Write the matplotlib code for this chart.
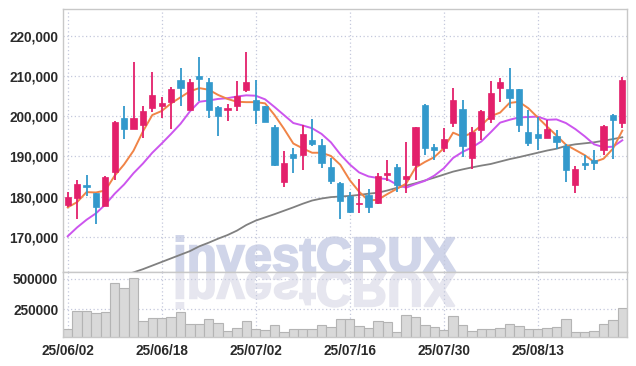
import numpy as np
import matplotlib
matplotlib.use('Agg')
import matplotlib.pyplot as plt
from matplotlib import font_manager as fm
from matplotlib.textpath import TextPath
from matplotlib.patches import PathPatch
from matplotlib.font_manager import FontProperties
from matplotlib.transforms import Affine2D, IdentityTransform
from matplotlib.ticker import FuncFormatter, FixedLocator

# 좁은 글꼴이 있으면 사용, 없으면 Liberation Sans
font_names = {f.name for f in fm.fontManager.ttflist}
if 'Liberation Sans Narrow' in font_names:
    LABEL_FONT = dict(family='Liberation Sans Narrow', size=11.5, weight='bold')
else:
    LABEL_FONT = dict(family='Liberation Sans', size=9.8, weight='bold')
plt.rcParams['font.family'] = [LABEL_FONT['family'], 'DejaVu Sans']

# 틱 라벨 (10거래일 간격)
tick_labels = ['25/06/02', '25/06/18', '25/07/02', '25/07/16', '25/07/30', '25/08/13']

# OHLC (60 거래일)
opens = [177900, 179600, 182750, 180900, 177600, 186100, 199650, 196850, 197850, 202150,
         202600, 203600, 209000, 201500, 210000, 208500, 202350, 201500, 202500, 206500,
         204150, 202650, 197250, 183600, 190500, 190350, 194100, 192750, 187350, 183350,
         180100, 178100, 180350, 178350, 185250, 187350, 184350, 187750, 202750, 192250,
         192150, 198350, 201750, 189600, 196650, 199350, 207100, 206750, 206750, 196000,
         195500, 194600, 195000, 192500, 182850, 188250, 189000, 191650, 200250, 198350]
closes = [179800, 183000, 182350, 177350, 184850, 198500, 196850, 199650, 201250, 205250,
          203250, 206750, 207100, 208600, 209250, 201500, 200000, 202150, 205150, 208500,
          201500, 198500, 187900, 188250, 189600, 195500, 193000, 188350, 183850, 178850,
          176250, 178500, 177500, 185000, 185750, 182900, 185000, 197250, 192100, 191600,
          194250, 204150, 192600, 196150, 201250, 205850, 208400, 204600, 197750, 193250,
          194600, 196750, 193500, 186600, 186750, 187850, 188350, 197500, 199100, 209000]
highs = [181100, 184150, 185400, 180900, 185150, 198850, 202650, 213400, 202650, 210900,
         204850, 207350, 211900, 209150, 214850, 209400, 202650, 203150, 208850, 215900,
         209000, 202650, 197750, 191350, 192000, 197850, 199400, 194400, 189600, 183600,
         181100, 184400, 181850, 185850, 189150, 188150, 193600, 197250, 203150, 193150,
         197150, 207100, 204150, 197350, 201650, 208850, 209500, 211900, 206750, 201600,
         199900, 199150, 196500, 193000, 187600, 190250, 191500, 197850, 200650, 209850]
lows = [177300, 174400, 180100, 173150, 177600, 184000, 194350, 196850, 194650, 201100,
        199650, 196900, 202650, 201500, 203850, 199650, 195150, 198850, 201250, 206000,
        198150, 198500, 187500, 182350, 185850, 186650, 192650, 187150, 183150, 174400,
        175850, 175900, 175850, 178100, 183850, 181100, 180900, 184000, 190400, 189150,
        191100, 197350, 189850, 186900, 194000, 198350, 203650, 202150, 196150, 192650,
        191650, 194600, 191900, 183600, 180900, 186500, 186500, 190250, 189400, 197150]

volumes = [88900, 230600, 230600, 213900, 222200, 463900, 422200, 511100, 155600, 180600,
           180600, 188900, 222200, 127800, 127800, 169400, 138900, 69400, 97200, 155600,
           88900, 80600, 122200, 63900, 88900, 88900, 88900, 122200, 105600, 172200,
           172200, 111100, 97200, 155600, 147200, 63900, 202800, 186100, 122200, 102800,
           80600, 194400, 122200, 72200, 88900, 88900, 97200, 127800, 113900, 83300,
           88900, 97200, 105600, 169400, 63900, 63900, 72200, 127800, 163900, 261100]

# 이동평균선
ma5 = [177300, 178600, 181100, 181000, 181500, 185200, 188000, 191400, 196200, 200300,
       201300, 203200, 204700, 206200, 207000, 206600, 205300, 204300, 203600, 203500,
       203500, 203200, 200300, 196900, 193200, 192000, 190900, 190900, 190100, 187900,
       184100, 181200, 179000, 179200, 180600, 181900, 183200, 187200, 188600, 189800,
       192000, 195900, 194900, 195800, 197700, 200000, 200900, 203300, 203600, 202000,
       199700, 197400, 195200, 192900, 191600, 190300, 188600, 189400, 191900, 196400]
ma10 = [170100, 172300, 174200, 175800, 178000, 180700, 183000, 185800, 188200, 190900,
        193200, 195600, 198100, 201200, 203600, 203900, 204300, 204500, 204900, 205200,
        205100, 204200, 202300, 200300, 198300, 197700, 197000, 195600, 193500, 190500,
        188000, 186000, 185000, 184600, 184300, 183000, 182200, 183100, 183900, 185200,
        187000, 189600, 191100, 192200, 193700, 196000, 198400, 199100, 199700, 199800,
        199900, 199100, 199200, 198300, 196800, 195000, 193000, 192300, 192400, 194000]
ma60 = [155200, 156000, 156900, 157700, 158600, 159400, 160300, 161100, 161900, 162800,
        163700, 164600, 165500, 166400, 167600, 168500, 169500, 170400, 171500, 172900,
        174000, 174800, 175600, 176450, 177300, 178200, 179000, 179500, 179850, 180000,
        180150, 180400, 180700, 180950, 181500, 182150, 182700, 183300, 184000, 184700,
        185450, 186200, 186750, 187250, 187700, 188100, 188700, 189300, 189800, 190350,
        190900, 191450, 191900, 192600, 193000, 193250, 193500, 193900, 194300, 194750]

UP = '#e3206b'
DOWN = '#3399cc'
GRID = '#c4c8dc'
SPINE = '#c8c8c8'
TEXT = '#2a2a2a'

fig = plt.figure(figsize=(6.36, 3.66), dpi=100)
ax = fig.add_axes([63 / 636, 1 - 272 / 366, 564 / 636, 263 / 366])
axv = fig.add_axes([63 / 636, 1 - 337 / 366, 564 / 636, 65 / 366], sharex=ax)

x = np.arange(len(closes))
o = np.array(opens)
c = np.array(closes)
up = c >= o
colors = np.where(up, UP, DOWN)

# 워터마크 (위: 글자, 아래: 반사)
wm_prop = FontProperties(family='Liberation Sans', weight='bold')
wm_path = TextPath((0, 0), 'investCRUX', size=50, prop=wm_prop)
ext = wm_path.get_extents()
sx = 279 / ext.width
sy = 36 / ext.y1
base_y = 366 - 272
tr_up = Affine2D().translate(-ext.x0, 0).scale(sx, sy).translate(176.5, base_y)
tr_dn = Affine2D().translate(-ext.x0, 0).scale(sx, -sy).translate(176.5, base_y)
ax.add_patch(PathPatch(tr_up.transform_path(wm_path), transform=IdentityTransform(),
                       facecolor='#d0d5e9', edgecolor='#d0d5e9', linewidth=1.4,
                       zorder=0.5))
axv.add_patch(PathPatch(tr_dn.transform_path(wm_path), transform=IdentityTransform(),
                        facecolor='#e6e6ef', edgecolor='#e6e6ef', linewidth=1.4,
                        zorder=0.5))

# 캔들
ax.vlines(x, lows, highs, colors=colors, linewidth=1.3, zorder=3)
ax.bar(x, np.abs(c - o), bottom=np.minimum(o, c), width=0.68, color=colors,
       edgecolor=colors, linewidth=0.5, zorder=4)

ax.plot(x, ma60, color='#808080', linewidth=1.3, zorder=2)
ax.plot(x, ma10, color='#cc55ee', linewidth=1.4, zorder=2)
ax.plot(x, ma5, color='#f08447', linewidth=1.4, zorder=2)

ax.set_xlim(-0.5, len(closes) - 0.5)
ax.set_ylim(161200, 226700)
ax.yaxis.set_major_locator(FixedLocator([170000, 180000, 190000, 200000, 210000, 220000]))
ax.yaxis.set_major_formatter(FuncFormatter(lambda v, p: f'{v:,.0f}'))

# 거래량
axv.bar(x, volumes, width=1.0, color='#d9d9d9', edgecolor='#b4b4b4', linewidth=0.8, zorder=2)
axv.set_ylim(19000, 558000)
axv.yaxis.set_major_locator(FixedLocator([250000, 500000]))
axv.yaxis.set_major_formatter(FuncFormatter(lambda v, p: f'{v:.0f}'))

axv.xaxis.set_major_locator(FixedLocator(np.arange(0, 60, 10)))
axv.set_xticklabels(tick_labels)
plt.setp(ax.get_xticklabels(), visible=False)

for a in (ax, axv):
    a.grid(True, color=GRID, linestyle=(0, (1, 2)), linewidth=0.9)
    a.set_axisbelow(True)
    a.tick_params(length=0, labelsize=LABEL_FONT['size'], labelcolor=TEXT, pad=3.5)
    for lbl in a.get_xticklabels() + a.get_yticklabels():
        lbl.set_fontweight(LABEL_FONT['weight'])
    for s in a.spines.values():
        s.set_color(SPINE)
        s.set_linewidth(1.0)

axv.tick_params(axis='x', pad=5)

fig.savefig('out.png', dpi=100)
